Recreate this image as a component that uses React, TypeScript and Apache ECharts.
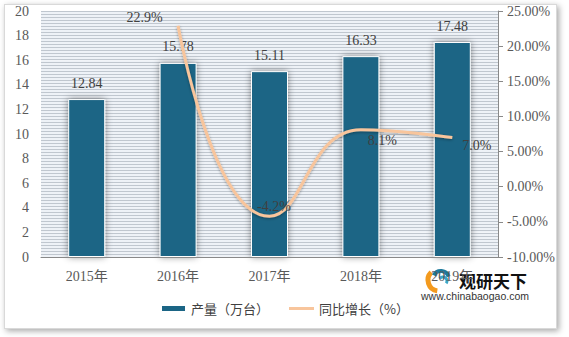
import React, { useEffect, useRef } from "react";
import * as echarts from "echarts";

const categories = ["2015年", "2016年", "2017年", "2018年", "2019年"];
const production = [12.84, 15.78, 15.11, 16.33, 17.48];
const growth = [null, 22.9, -4.2, 8.1, 7.0];
const growthLabelOffsets = [null, [-33, -8], [5, -9], [22, 11], [25, 8]];
const leftTicks = { min: 0, max: 20, interval: 2 };
const rightTicks = { min: -10, max: 25, interval: 5 };
const stripeTicks = { min: 0, max: 82, interval: 1 };
const seriesNames = ["产量（万台）", "同比增长（%）"];

const FONT = "'Liberation Serif', 'Noto Sans CJK SC', serif";
const STRIPE = "#c0c7cf";
const PLOT_BG = "#eef2f7";

export default function App() {
  const ref = useRef<HTMLDivElement>(null);
  useEffect(() => {
    const chart = echarts.init(ref.current!, null, { renderer: "svg" });
    const option: any = {
      animation: false,
      backgroundColor: "transparent",
      grid: {
        left: 41,
        right: 71,
        top: 11,
        bottom: 80,
        show: false,
      },
      legend: {
        bottom: 17,
        left: "center",
        itemWidth: 25,
        itemHeight: 7,
        itemGap: 20,
        textStyle: { fontFamily: "'Noto Sans CJK SC', sans-serif", fontSize: 13, color: "#404040" },
        data: [
          { name: seriesNames[0], icon: "rect" },
          { name: seriesNames[1], icon: "path://M0,0 L25,0 L25,3 L0,3 Z", itemStyle: { color: "#f8c59c" } },
        ],
      },
      xAxis: {
        type: "category",
        data: categories,
        z: 5,
        axisLine: { lineStyle: { color: "#898989", width: 1 } },
        axisTick: { show: false },
        axisLabel: { fontFamily: FONT, fontSize: 14, color: "#595959", margin: 12 },
      },
      yAxis: [
        {
          type: "value",
          min: leftTicks.min,
          max: leftTicks.max,
          interval: leftTicks.interval,
          axisLine: { show: false },
          axisTick: { show: false },
          splitArea: { show: true, areaStyle: { color: [PLOT_BG, PLOT_BG] } },
          splitLine: { show: false },
          axisLabel: { fontFamily: FONT, fontSize: 14, color: "#595959", margin: 12 },
        },
        {
          type: "value",
          position: "right",
          min: rightTicks.min,
          max: rightTicks.max,
          interval: rightTicks.interval,
          z: 5,
          axisLine: { show: true, lineStyle: { color: "#898989" } },
          axisTick: { show: true, length: 5, lineStyle: { color: "#898989" } },
          splitLine: { show: false },
          axisLabel: {
            fontFamily: FONT,
            fontSize: 14,
            color: "#595959",
            margin: 9,
            formatter: (v: number) => v.toFixed(2) + "%",
          },
        },
        {
          type: "value",
          position: "left",
          min: stripeTicks.min,
          max: stripeTicks.max,
          interval: stripeTicks.interval,
          z: 1,
          axisLine: { show: false },
          axisTick: { show: false },
          axisLabel: { show: false },
          splitArea: { show: false },
          splitLine: { show: true, lineStyle: { color: STRIPE, width: 1 } },
        },
      ],
      series: [
        {
          name: seriesNames[0],
          type: "bar",
          yAxisIndex: 0,
          data: production,
          barWidth: 37,
          z: 3,
          itemStyle: {
            color: "#1b6585",
            borderColor: "#ffffff",
            borderWidth: 1,
            shadowColor: "rgba(0,0,0,0.45)",
            shadowBlur: 7,
          },
          label: {
            show: true,
            position: "top",
            distance: 9,
            fontFamily: FONT,
            fontSize: 14,
            color: "#404040",
            formatter: (p: any) => p.value.toFixed(2),
          },
        },
        {
          name: seriesNames[1],
          type: "line",
          yAxisIndex: 1,
          smooth: 0.5,
          symbol: "circle",
          symbolSize: 1,
          showSymbol: true,
          connectNulls: false,
          z: 4,
          data: growth.map((v, i) =>
            v === null
              ? null
              : {
                  value: v,
                  label: {
                    show: true,
                    position: growthLabelOffsets[i],
                    align: "center",
                    verticalAlign: "middle",
                    fontFamily: FONT,
                    fontSize: 14,
                    color: "#404040",
                    formatter: (p: any) => p.value.toFixed(1) + "%",
                  },
                }
          ),
          lineStyle: {
            color: "#f8c59c",
            width: 3,
            shadowColor: "rgba(0,0,0,0.35)",
            shadowBlur: 3,
            shadowOffsetY: 1,
          },
          itemStyle: { color: "rgba(248,197,156,0)" },
          labelLayout: { hideOverlap: false },
        },
      ],
      graphic: [
        {
          type: "group",
          z: 100,
          children: [
            {
              type: "arc",
              shape: { cx: 439, cy: 280, r: 11, startAngle: Math.PI * 0.55, endAngle: Math.PI * 1.25 },
              style: { stroke: "#f39a1e", lineWidth: 5, fill: "none" },
            },
            {
              type: "arc",
              shape: { cx: 441, cy: 279, r: 8, startAngle: Math.PI * 1.15, endAngle: Math.PI * 1.9 },
              style: { stroke: "#1e7a9c", lineWidth: 4, fill: "none" },
            },
            {
              type: "arc",
              shape: { cx: 443, cy: 281, r: 4, startAngle: Math.PI * 1.2, endAngle: Math.PI * 2.2 },
              style: { stroke: "#3aa6c7", lineWidth: 3, fill: "none" },
            },
            {
              type: "text",
              x: 459,
              y: 272,
              style: {
                text: "观研天下",
                font: "bold 17px 'Noto Sans CJK SC', sans-serif",
                fill: "#111111",
              },
            },
            {
              type: "text",
              x: 421,
              y: 290,
              style: {
                text: "www.chinabaogao.com",
                font: "10.5px 'Liberation Sans', Arial, sans-serif",
                fill: "#333333",
              },
            },
          ],
        },
      ],
    };
    chart.setOption(option);
    return () => chart.dispose();
  }, []);
  return (
    <div style={{ position: "absolute", left: 0, top: 0, width: 569, height: 337, background: "#ffffff" }}>
      <div
        style={{
          position: "absolute",
          left: 4,
          top: 4,
          width: 551,
          height: 323,
          border: "1px solid #d9d9d9",
          boxShadow: "2px 2px 6px rgba(0,0,0,0.35)",
          background: "#ffffff",
        }}
      />
      <div
        ref={ref}
        style={{ position: "absolute", left: 0, top: 0, width: 569, height: 337 }}
      />
    </div>
  );
}
